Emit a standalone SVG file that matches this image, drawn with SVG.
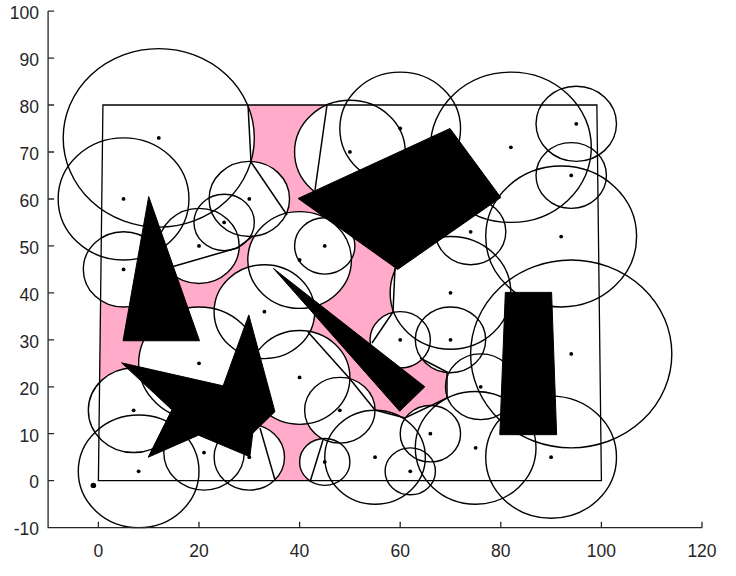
<svg xmlns="http://www.w3.org/2000/svg" width="736" height="576" viewBox="0 0 736 576">
<style>
.w{fill:#fff;stroke:none}
.c{fill:none;stroke:#000;stroke-width:1.4}
.d{fill:#000}
.ob{fill:#000;stroke:#000;stroke-width:1;vector-effect:non-scaling-stroke}
.ln{fill:none;stroke:#000;stroke-width:1.5}
.ax{stroke:#262626;stroke-width:1.3;fill:none}
.t{font-family:"Liberation Sans",Arial,sans-serif;font-size:17.5px;fill:#262626}
</style>
<defs>
<g id="circles">
<circle cx="12" cy="73" r="19" vector-effect="non-scaling-stroke"/>
<circle cx="5" cy="60" r="13" vector-effect="non-scaling-stroke"/>
<circle cx="5" cy="45" r="8" vector-effect="non-scaling-stroke"/>
<circle cx="20" cy="50" r="8" vector-effect="non-scaling-stroke"/>
<circle cx="25" cy="55" r="6" vector-effect="non-scaling-stroke"/>
<circle cx="30" cy="60" r="8" vector-effect="non-scaling-stroke"/>
<circle cx="40" cy="47" r="10.3" vector-effect="non-scaling-stroke"/>
<circle cx="45" cy="50" r="6" vector-effect="non-scaling-stroke"/>
<circle cx="33" cy="36" r="10" vector-effect="non-scaling-stroke"/>
<circle cx="20" cy="25" r="12" vector-effect="non-scaling-stroke"/>
<circle cx="40" cy="22" r="10" vector-effect="non-scaling-stroke"/>
<circle cx="7" cy="15" r="9" vector-effect="non-scaling-stroke"/>
<circle cx="8" cy="2" r="12" vector-effect="non-scaling-stroke"/>
<circle cx="21" cy="6" r="8" vector-effect="non-scaling-stroke"/>
<circle cx="30" cy="5" r="7" vector-effect="non-scaling-stroke"/>
<circle cx="45" cy="4" r="5" vector-effect="non-scaling-stroke"/>
<circle cx="48" cy="15" r="7" vector-effect="non-scaling-stroke"/>
<circle cx="55" cy="5" r="10" vector-effect="non-scaling-stroke"/>
<circle cx="62" cy="2" r="5" vector-effect="non-scaling-stroke"/>
<circle cx="66" cy="10" r="6" vector-effect="non-scaling-stroke"/>
<circle cx="60" cy="30" r="6" vector-effect="non-scaling-stroke"/>
<circle cx="70" cy="30" r="7" vector-effect="non-scaling-stroke"/>
<circle cx="70" cy="40" r="12" vector-effect="non-scaling-stroke"/>
<circle cx="76" cy="20" r="7" vector-effect="non-scaling-stroke"/>
<circle cx="75" cy="7" r="12" vector-effect="non-scaling-stroke"/>
<circle cx="90" cy="5" r="13" vector-effect="non-scaling-stroke"/>
<circle cx="94" cy="27" r="20" vector-effect="non-scaling-stroke"/>
<circle cx="92" cy="52" r="15" vector-effect="non-scaling-stroke"/>
<circle cx="94" cy="65" r="7" vector-effect="non-scaling-stroke"/>
<circle cx="95" cy="76" r="8" vector-effect="non-scaling-stroke"/>
<circle cx="82" cy="71" r="16" vector-effect="non-scaling-stroke"/>
<circle cx="74" cy="53" r="7" vector-effect="non-scaling-stroke"/>
<circle cx="60" cy="75" r="12" vector-effect="non-scaling-stroke"/>
<circle cx="50" cy="70" r="11" vector-effect="non-scaling-stroke"/>
</g>
</defs>
<g id="plot" transform="matrix(5.03 0 0 -4.696 98.4 480.7)">
<polygon id="free-space" points="0.9,80 99.1,80 100,0 0,0" fill="#FFABC9" stroke="none"/>
<use href="#circles" class="w"/>
<polygon id="boundary" points="0.9,80 99.1,80 100,0 0,0" fill="none" stroke="#000" stroke-width="1.3" vector-effect="non-scaling-stroke"/>
<use href="#circles" class="c"/>
<g id="obstacles">
<polygon id="triangle" class="ob" points="10,60.5 4.9,29.8 20.1,29.8"/>
<polygon id="quad" class="ob" points="39.7,60.1 69.9,75 80,60.3 59.5,45"/>
<polygon id="spike" class="ob" points="34.8,45.2 64.9,20 59.9,14.8"/>
<polygon id="star" class="ob" points="4.6,25.1 24.8,20.2 29.9,35.3 35.1,14.7 30.7,10.1 30.1,5.1 19.9,9.7 9.9,5 14.6,15.1"/>
<polygon id="block" class="ob" points="80.9,40.1 90.1,40.1 91.1,9.8 79.8,9.8"/>
</g>
<g id="centers" class="d">
<ellipse cx="12" cy="73" rx="0.38" ry="0.4"/><ellipse cx="5" cy="60" rx="0.38" ry="0.4"/><ellipse cx="5" cy="45" rx="0.38" ry="0.4"/><ellipse cx="20" cy="50" rx="0.38" ry="0.4"/><ellipse cx="25" cy="55" rx="0.38" ry="0.4"/><ellipse cx="30" cy="60" rx="0.38" ry="0.4"/><ellipse cx="40" cy="47" rx="0.38" ry="0.4"/><ellipse cx="45" cy="50" rx="0.38" ry="0.4"/><ellipse cx="33" cy="36" rx="0.38" ry="0.4"/><ellipse cx="20" cy="25" rx="0.38" ry="0.4"/><ellipse cx="40" cy="22" rx="0.38" ry="0.4"/><ellipse cx="7" cy="15" rx="0.38" ry="0.4"/><ellipse cx="8" cy="2" rx="0.38" ry="0.4"/><ellipse cx="21" cy="6" rx="0.38" ry="0.4"/><ellipse cx="30" cy="5" rx="0.38" ry="0.4"/><ellipse cx="45" cy="4" rx="0.38" ry="0.4"/><ellipse cx="48" cy="15" rx="0.38" ry="0.4"/><ellipse cx="55" cy="5" rx="0.38" ry="0.4"/><ellipse cx="62" cy="2" rx="0.38" ry="0.4"/><ellipse cx="66" cy="10" rx="0.38" ry="0.4"/><ellipse cx="60" cy="30" rx="0.38" ry="0.4"/><ellipse cx="70" cy="30" rx="0.38" ry="0.4"/><ellipse cx="70" cy="40" rx="0.38" ry="0.4"/><ellipse cx="76" cy="20" rx="0.38" ry="0.4"/><ellipse cx="75" cy="7" rx="0.38" ry="0.4"/><ellipse cx="90" cy="5" rx="0.38" ry="0.4"/><ellipse cx="94" cy="27" rx="0.38" ry="0.4"/><ellipse cx="92" cy="52" rx="0.38" ry="0.4"/><ellipse cx="94" cy="65" rx="0.38" ry="0.4"/><ellipse cx="95" cy="76" rx="0.38" ry="0.4"/><ellipse cx="82" cy="71" rx="0.38" ry="0.4"/><ellipse cx="74" cy="53" rx="0.38" ry="0.4"/><ellipse cx="60" cy="75" rx="0.38" ry="0.4"/><ellipse cx="50" cy="70" rx="0.38" ry="0.4"/>
<ellipse cx="-1" cy="-1" rx="0.55" ry="0.58"/>
</g>
</g>
<g id="connectors" class="ln">
<polyline points="248,105 251,162 287,215"/>
<polyline points="327,105 315,190"/>
<polyline points="168,268 237,248 253,236"/>
<polyline points="308,332 350,379 375,410 405,418 447,398 447,372 420,358"/>
<polyline points="395,268 393,312 372,343"/>
<polyline points="260,428 275,480"/>
<polyline points="323,440 310,482"/>
</g>
<g id="axes">
<path class="ax" d="M48.1,11.1 V527.7 H702"/>
<path class="ax" d="M48.1,11.1 h6 M48.1,58.1 h6 M48.1,105 h6 M48.1,152 h6 M48.1,199 h6 M48.1,245.9 h6 M48.1,292.9 h6 M48.1,339.8 h6 M48.1,386.8 h6 M48.1,433.7 h6 M48.1,480.7 h6 M98.4,527.7 v-6 M199,527.7 v-6 M299.6,527.7 v-6 M400.2,527.7 v-6 M500.8,527.7 v-6 M601.4,527.7 v-6 M702,527.7 v-6"/>
<g class="t" text-anchor="end">
<text x="39" y="18.5">100</text><text x="39" y="65.5">90</text><text x="39" y="112.5">80</text><text x="39" y="159.5">70</text><text x="39" y="206.5">60</text><text x="39" y="253.5">50</text><text x="39" y="300.5">40</text><text x="39" y="347.5">30</text><text x="39" y="394.5">20</text><text x="39" y="441.5">10</text><text x="39" y="488">0</text><text x="39" y="535">-10</text>
</g>
<g class="t" text-anchor="middle">
<text x="98.4" y="557">0</text><text x="199" y="557">20</text><text x="299.6" y="557">40</text><text x="400.2" y="557">60</text><text x="500.8" y="557">80</text><text x="601.4" y="557">100</text><text x="702" y="557">120</text>
</g>
</g>
</svg>
